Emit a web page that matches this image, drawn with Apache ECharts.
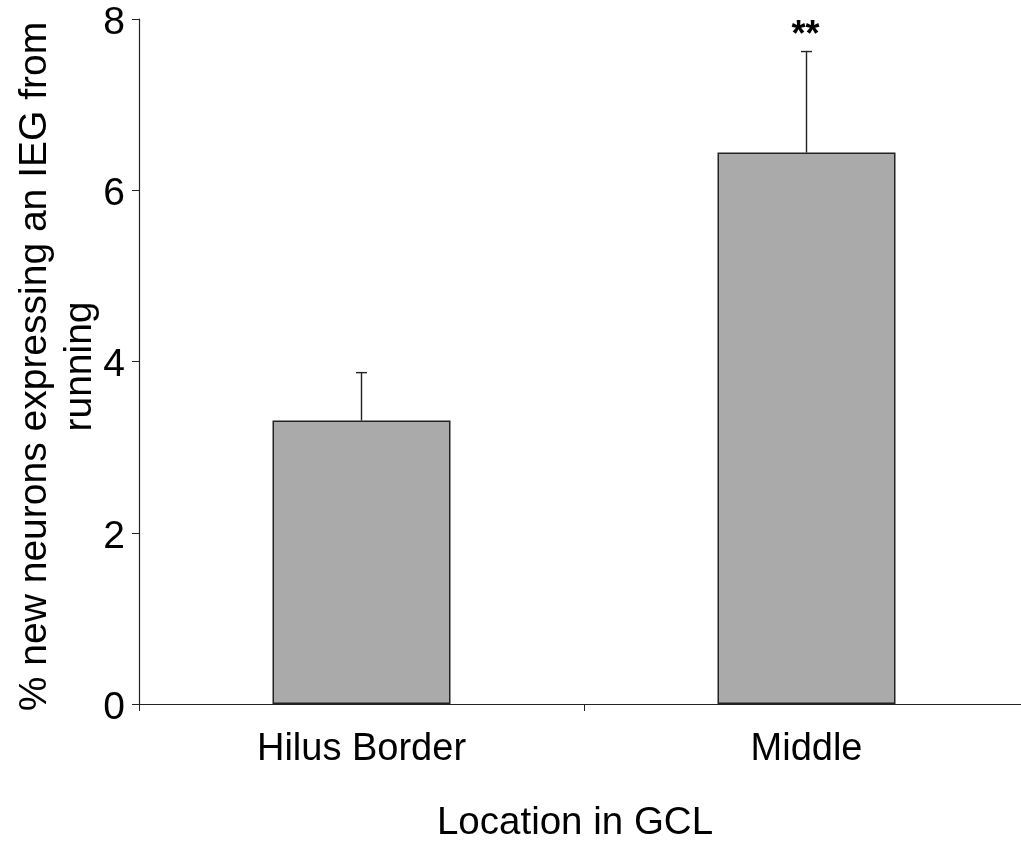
<!DOCTYPE html>
<html>
<head>
<meta charset="utf-8">
<script src="https://cdn.jsdelivr.net/npm/echarts@6/dist/echarts.min.js"></script>
<style>html,body{margin:0;padding:0;background:#fff;}#c{width:1021px;height:842px;}</style>
</head>
<body>
<div id="c"></div>
<script>
const categories = ['Hilus Border', 'Middle'];
const means = [3.31, 6.44];
const errors = [0.56, 1.18];
const significance = ['', '**'];
const yTicks = { min: 0, max: 8, interval: 2 };

const FONT = '"Liberation Sans", Arial, sans-serif';
const chart = echarts.init(document.getElementById('c'));
chart.setOption({
  animation: false,
  backgroundColor: '#fff',
  grid: { left: 139, top: 19, bottom: 138, right: -8, containLabel: false, outerBoundsMode: 'none' },
  xAxis: {
    type: 'category',
    data: categories,
    name: 'Location in GCL',
    nameLocation: 'middle',
    nameGap: 100,
    nameMoveOverlap: false,
    nameTextStyle: { fontFamily: FONT, fontSize: 38.5, color: '#000', padding: [0, 18, 0, 0] },
    axisLine: { lineStyle: { color: '#222', width: 1.2 } },
    axisTick: { show: true, length: 7, alignWithLabel: false, lineStyle: { color: '#222' } },
    axisLabel: { fontFamily: FONT, fontSize: 38, color: '#000', margin: 27 }
  },
  yAxis: {
    type: 'value',
    min: yTicks.min, max: yTicks.max, interval: yTicks.interval,
    name: '% new neurons expressing an IEG from\nrunning',
    nameLocation: 'middle',
    nameGap: 36,
    nameRotate: 90,
    nameMoveOverlap: false,
    nameTextStyle: { fontFamily: FONT, fontSize: 39, color: '#000', lineHeight: 45, padding: [0, 10, 0, 0] },
    axisLine: { show: true, lineStyle: { color: '#222', width: 1.2 } },
    axisTick: { show: true, length: 7, lineStyle: { color: '#222' } },
    splitLine: { show: false },
    axisLabel: {
      color: '#000', margin: 14,
      formatter: '{a|{value}}',
      rich: { a: { fontFamily: FONT, fontSize: 39, color: '#000', padding: [8, 0, 0, 0] } }
    }
  },
  series: [
    {
      type: 'bar',
      data: means,
      barWidth: 178,
      itemStyle: { color: '#aaaaaa', borderColor: '#222', borderWidth: 1.5 }
    },
    {
      type: 'custom',
      data: means.map((m, i) => [i, m, errors[i]]),
      z: 3,
      renderItem: function (params, api) {
        const x = api.value(0), m = api.value(1), e = api.value(2);
        const base = api.coord([x, m]);
        const top = api.coord([x, m + e]);
        const half = 5.5;
        const style = { stroke: '#222', lineWidth: 1.4 };
        const children = [
          { type: 'line', shape: { x1: base[0], y1: base[1], x2: top[0], y2: top[1] }, style: style },
          { type: 'line', shape: { x1: top[0] - half, y1: top[1], x2: top[0] + half, y2: top[1] }, style: style }
        ];
        const sig = significance[params.dataIndex];
        if (sig) {
          children.push({
            type: 'text',
            style: { text: sig, x: top[0] - 1, y: top[1] + 3, align: 'center', verticalAlign: 'bottom',
                     font: 'bold 36px ' + FONT, fill: '#000' }
          });
        }
        return { type: 'group', children: children };
      }
    }
  ]
});
</script>
</body>
</html>
